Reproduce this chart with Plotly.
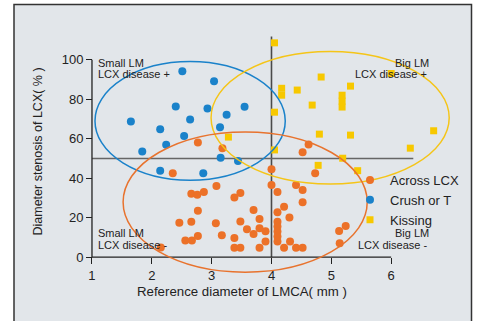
import plotly.graph_objects as go

# ---------------- data ----------------
across_x = [2.15, 2.35, 2.46, 2.56, 2.66, 2.66, 2.67, 2.76, 2.77, 2.77, 2.77, 2.87,
            3.07, 3.08, 3.17, 3.18, 3.38, 3.38, 3.38, 3.48, 3.48, 3.48, 3.59, 3.70,
            3.70, 3.80, 3.80, 3.80, 3.90, 3.90, 4.00, 4.00, 4.10, 4.10, 4.10, 4.10,
            4.10, 4.10, 4.10, 4.21, 4.21, 4.30, 4.31, 4.41, 4.41, 4.52, 4.52, 4.52,
            4.52, 4.62, 4.73, 5.13, 5.24, 5.14]
across_y = [4.9, 42.5, 17.4, 8.5, 32.1, 17.9, 8.5, 31.6, 23.5, 10.7, 58.0, 33.0,
            17.2, 36.0, 11.1, 55.2, 30.2, 9.7, 4.8, 32.5, 18.1, 4.8, 14.2, 23.9,
            11.7, 19.3, 14.6, 4.8, 13.1, 7.9, 44.5, 36.5, 33.0, 22.7, 18.0, 15.5,
            13.0, 10.5, 8.0, 25.5, 4.8, 20.1, 8.0, 36.6, 4.8, 34.0, 27.8, 53.1,
            4.8, 57.1, 42.5, 13.3, 15.8, 7.1]

crush_x = [2.51, 3.04, 2.40, 2.93, 3.55, 1.65, 2.64, 3.25, 2.14, 3.14, 2.54, 2.24,
           1.84, 3.15, 3.44, 2.14, 2.86]
crush_y = [94.1, 89.0, 76.3, 75.3, 76.1, 68.7, 69.7, 72.1, 64.8, 65.8, 61.3, 56.9,
           53.5, 50.4, 48.7, 43.8, 42.5]

kiss_x = [4.05, 4.17, 4.17, 4.43, 4.83, 5.32, 5.18, 5.18, 5.18, 4.68, 4.05, 6.00,
          4.80, 5.32, 6.71, 6.32, 4.05, 3.28, 4.78, 5.19, 5.44]
kiss_y = [108.5, 85.5, 82.0, 84.6, 91.2, 86.6, 82.0, 79.0, 76.0, 77.0, 73.4, 93.0,
          62.3, 61.8, 64.0, 55.2, 54.3, 60.8, 46.5, 50.1, 43.8]

series_names = ["Across LCX", "Crush or T", "Kissing"]
x_ticks = [1, 2, 3, 4, 5, 6]
y_ticks = [0, 20, 40, 60, 80, 100]

# ellipse extents (x0, x1, y0, y1) per group
ellipse_across = [1.52, 5.60, -7.6, 63.4]
ellipse_crush = [1.05, 4.23, 39.0, 99.0]
ellipse_kiss = [2.99, 6.97, 37.1, 104.1]

# ---------------- style ----------------
ORANGE = "#EC7128"
BLUE = "#1A82CA"
YELLOW = "#F7C800"
BG = "#E2E6EA"
TXT = "#222222"
FONT = "Liberation Sans, Arial, sans-serif"

XR = [0.9, 7.0]
YR = [-9, 115]
ML, MR, MT, MB = 86, 29, 30, 46
W, H = 480, 321
PW = W - ML - MR
PH = H - MT - MB


def px_x(p):
    return (p - ML) / PW


def px_y(p):
    return (H - MB - p) / PH


fig = go.Figure()

fig.add_trace(go.Scatter(x=across_x, y=across_y, mode="markers", name=series_names[0],
                         marker=dict(color=ORANGE, size=8, symbol="circle", line=dict(width=0))))
fig.add_trace(go.Scatter(x=crush_x, y=crush_y, mode="markers", name=series_names[1],
                         marker=dict(color=BLUE, size=8, symbol="circle", line=dict(width=0))))
fig.add_trace(go.Scatter(x=kiss_x, y=kiss_y, mode="markers", name=series_names[2],
                         marker=dict(color=YELLOW, size=7, symbol="square", line=dict(width=0))))

shapes = []
# frame
shapes.append(dict(type="rect", xref="paper", yref="paper", layer="below",
                   x0=px_x(14), x1=px_x(471.5), y0=px_y(335), y1=px_y(4.5),
                   fillcolor=BG, line=dict(color="#333333", width=1.5)))
# crosshair lines
shapes.append(dict(type="line", xref="x", yref="y", layer="below",
                   x0=4, x1=4, y0=0, y1=111.7, line=dict(color="#4a4a4a", width=1.6)))
shapes.append(dict(type="line", xref="x", yref="y", layer="below",
                   x0=1, x1=6.37, y0=50, y1=50, line=dict(color="#666666", width=1.6)))
# axis lines
shapes.append(dict(type="line", xref="x", yref="y", x0=1, x1=6, y0=0, y1=0,
                   line=dict(color=TXT, width=1.3)))
shapes.append(dict(type="line", xref="x", yref="y", x0=1, x1=1, y0=0, y1=100,
                   line=dict(color=TXT, width=1.3)))
# ellipses
for e, c in [(ellipse_crush, BLUE), (ellipse_kiss, "#F5C518"), (ellipse_across, "#E8732E")]:
    shapes.append(dict(type="circle", xref="x", yref="y", x0=e[0], x1=e[1], y0=e[2], y1=e[3],
                       line=dict(color=c, width=1.5), fillcolor="rgba(0,0,0,0)"))

annotations = []
af = dict(family=FONT, size=11, color=TXT)
for txt, x, y, anc in [
    ("Small LM", 1.067, 98.4, "left"), ("LCX disease +", 1.067, 92.6, "left"),
    ("Small LM", 1.067, 12.2, "left"), ("LCX disease -", 1.067, 6.2, "left"),
    ("Big LM", 6.665, 98.4, "right"), ("LCX disease +", 6.635, 92.6, "right"),
    ("Big LM", 6.665, 12.2, "right"), ("LCX disease -", 6.635, 6.2, "right"),
]:
    annotations.append(dict(text=txt, x=x, y=y, xref="x", yref="y", xanchor=anc,
                            yanchor="middle", showarrow=False, font=af))
# axis titles
annotations.append(dict(text="Reference diameter of LMCA( mm )", x=3.5, y=px_y(291.7),
                        xref="x", yref="paper", xanchor="center", yanchor="middle",
                        showarrow=False, font=dict(family=FONT, size=13.25, color=TXT)))
annotations.append(dict(text="Diameter stenosis of LCX( % )", x=px_x(38), y=53.5,
                        xref="paper", yref="y", xanchor="center", yanchor="middle",
                        textangle=-90, showarrow=False,
                        font=dict(family=FONT, size=12.5, color=TXT)))

fig.update_layout(
    width=W, height=H,
    margin=dict(l=ML, r=MR, t=MT, b=MB, pad=0),
    paper_bgcolor="white",
    plot_bgcolor="rgba(0,0,0,0)",
    font=dict(family=FONT, size=13, color=TXT),
    shapes=shapes,
    annotations=annotations,
    showlegend=True,
    legend=dict(x=px_x(350), y=px_y(165), xanchor="left", yanchor="top",
                bgcolor="rgba(0,0,0,0)", borderwidth=0,
                font=dict(family=FONT, size=13, color=TXT),
                itemwidth=30, tracegroupgap=0),
    xaxis=dict(range=XR, anchor="free", position=(0 - YR[0]) / (YR[1] - YR[0]),
               tickvals=x_ticks, ticktext=[str(v) for v in x_ticks],
               ticks="outside", ticklen=6, tickwidth=1.3, tickcolor=TXT,
               showline=False, showgrid=False, zeroline=False,
               tickfont=dict(family=FONT, size=13, color=TXT)),
    yaxis=dict(range=YR, anchor="free", position=(1 - XR[0]) / (XR[1] - XR[0]),
               tickvals=y_ticks, ticktext=[str(v) for v in y_ticks],
               ticks="outside", ticklen=6, tickwidth=1.3, tickcolor=TXT,
               showline=False, showgrid=False, zeroline=False,
               tickfont=dict(family=FONT, size=13, color=TXT)),
)

fig.write_html("out.html", config={"displayModeBar": False},
               post_script="document.body.style.margin='0';")
